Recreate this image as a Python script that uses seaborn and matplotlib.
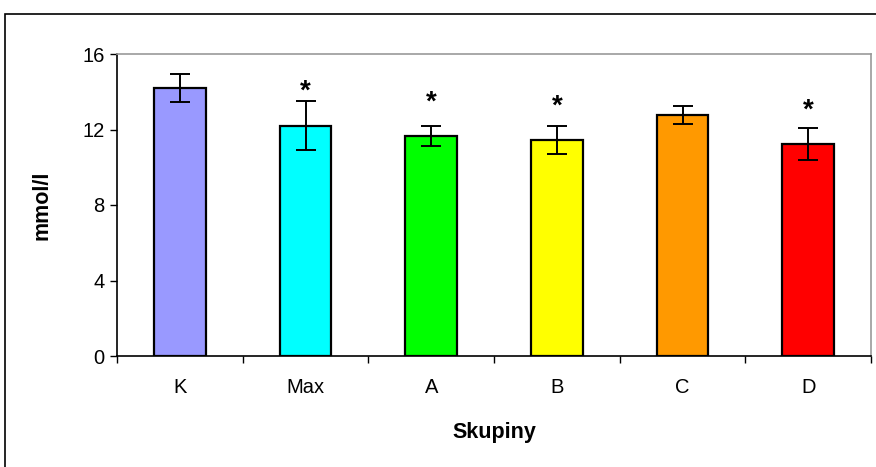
import numpy as np
import matplotlib
matplotlib.use("Agg")
import matplotlib.pyplot as plt
import seaborn as sns
from matplotlib.patches import Rectangle

groups = ["K", "Max", "A", "B", "C", "D"]
means = [14.2, 12.2, 11.65, 11.45, 12.75, 11.25]
errors = [0.75, 1.3, 0.55, 0.75, 0.48, 0.85]
significant = [False, True, True, True, False, True]
star_y = [None, 14.0, 13.45, 13.2, None, 13.0]
colors = ["#9999FF", "#00FFFF", "#00FF00", "#FFFF00", "#FF9900", "#FF0000"]

sns.set_style("white")
plt.rcParams["font.family"] = ["Liberation Sans", "DejaVu Sans"]
plt.rcParams["text.color"] = "black"
plt.rcParams["axes.labelcolor"] = "black"
plt.rcParams["xtick.color"] = "black"
plt.rcParams["ytick.color"] = "black"

fig = plt.figure(figsize=(8.76, 4.67), dpi=100)
ax = fig.add_axes([117 / 876, 1 - 356 / 467, 754 / 876, 302 / 467])

sns.barplot(x=groups, y=means, hue=groups, palette=colors, width=0.41,
            saturation=1, edgecolor="black", linewidth=1.6, legend=False,
            ax=ax, zorder=2)
ax.errorbar(np.arange(len(groups)), means, yerr=errors, fmt="none",
            ecolor="black", elinewidth=1.4, capsize=7, capthick=1.4, zorder=3)

for i, (sig, sy) in enumerate(zip(significant, star_y)):
    if sig:
        ax.text(i, sy, "*", ha="center", va="center", fontsize=20,
                fontweight="bold")

ax.set_xlim(-0.5, len(groups) - 0.5)
ax.set_ylim(0, 16)
ax.set_yticks([0, 4, 8, 12, 16])
ax.set_xticks(np.arange(len(groups)))
ax.set_xticks(np.arange(len(groups) + 1) - 0.5, minor=True)
ax.tick_params(axis="x", which="major", length=0, labelsize=14.5, pad=16)
ax.tick_params(axis="x", which="minor", length=5, width=1, color="black",
               direction="out", bottom=True)
ax.tick_params(axis="y", length=5, width=1, color="black", direction="out",
               left=True, labelsize=14.5, pad=4)

for s in ["left", "bottom"]:
    ax.spines[s].set_color("black")
    ax.spines[s].set_linewidth(1.2)
for s in ["top", "right"]:
    ax.spines[s].set_color("#999999")
    ax.spines[s].set_linewidth(1.2)

ax.set_xlabel("Skupiny", fontsize=15.5, fontweight="bold", labelpad=18)
ax.set_ylabel("mmol/l", fontsize=15.5, fontweight="bold", labelpad=21)

fig.patches.append(Rectangle((5 / 876, -0.01), 1.0, 1 - 14 / 467 + 0.01,
                             transform=fig.transFigure, fill=False,
                             edgecolor="black", linewidth=1.2))

fig.savefig("out.png", dpi=100)
